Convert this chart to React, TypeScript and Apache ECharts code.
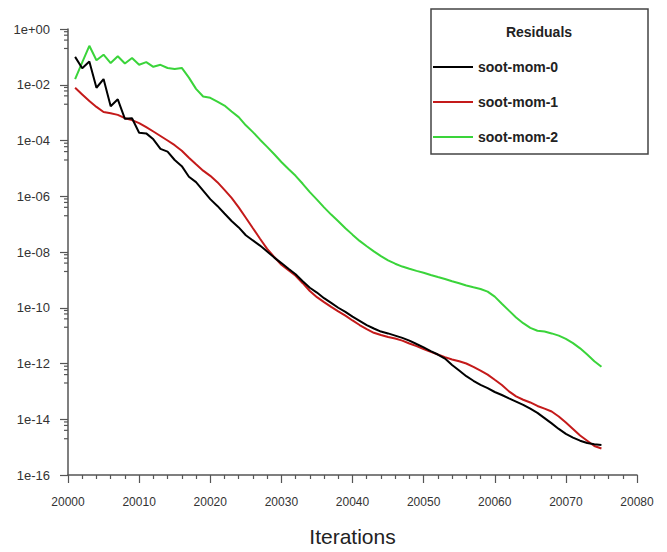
import React, { useEffect, useRef } from "react";
import * as echarts from "echarts";

const iterations = [
  20001, 20002, 20003, 20004, 20005, 20006, 20007, 20008, 20009, 20010,
  20011, 20012, 20013, 20014, 20015, 20016, 20017, 20018, 20019, 20020,
  20021, 20022, 20023, 20024, 20025, 20026, 20027, 20028, 20029, 20030,
  20031, 20032, 20033, 20034, 20035, 20036, 20037, 20038, 20039, 20040,
  20041, 20042, 20043, 20044, 20045, 20046, 20047, 20048, 20049, 20050,
  20051, 20052, 20053, 20054, 20055, 20056, 20057, 20058, 20059, 20060,
  20061, 20062, 20063, 20064, 20065, 20066, 20067, 20068, 20069, 20070,
  20071, 20072, 20073, 20074, 20075,
];

const sootMom0 = [
  1.0e-1, 3.9e-2, 6.8e-2, 7.8e-3, 1.6e-2, 1.7e-3, 3.0e-3, 6.0e-4, 6.3e-4, 1.9e-4,
  1.8e-4, 1.1e-4, 5.0e-5, 4.0e-5, 2.0e-5, 1.2e-5, 5.0e-6, 3.2e-6, 1.6e-6, 7.9e-7,
  4.5e-7, 2.4e-7, 1.3e-7, 7.6e-8, 4.0e-8, 2.6e-8, 1.7e-8, 1.05e-8, 6.3e-9, 4.0e-9,
  2.5e-9, 1.6e-9, 8.9e-10, 5.2e-10, 3.5e-10, 2.2e-10, 1.5e-10, 1.0e-10, 7.1e-11, 4.8e-11,
  3.4e-11, 2.4e-11, 1.8e-11, 1.4e-11, 1.2e-11, 1.0e-11, 8.3e-12, 6.6e-12, 5.0e-12, 3.8e-12,
  2.8e-12, 2.1e-12, 1.5e-12, 8.9e-13, 5.6e-13, 3.5e-13, 2.4e-13, 1.7e-13, 1.3e-13, 9.5e-14,
  7.4e-14, 5.6e-14, 4.3e-14, 3.3e-14, 2.4e-14, 1.7e-14, 1.1e-14, 7.1e-15, 4.5e-15, 3.0e-15,
  2.2e-15, 1.7e-15, 1.4e-15, 1.26e-15, 1.2e-15,
];

const sootMom1 = [
  7.8e-3, 4.5e-3, 2.6e-3, 1.6e-3, 1.05e-3, 9.5e-4, 8.3e-4, 6.3e-4, 5.4e-4, 4.2e-4,
  3.0e-4, 2.1e-4, 1.45e-4, 1.0e-4, 6.8e-5, 4.3e-5, 2.4e-5, 1.4e-5, 8.3e-6, 5.4e-6,
  3.2e-6, 1.7e-6, 8.7e-7, 4.0e-7, 1.7e-7, 7.1e-8, 3.0e-8, 1.3e-8, 6.6e-9, 3.5e-9,
  2.2e-9, 1.4e-9, 7.6e-10, 4.0e-10, 2.4e-10, 1.6e-10, 1.07e-10, 7.4e-11, 5.2e-11, 3.5e-11,
  2.4e-11, 1.7e-11, 1.26e-11, 1.05e-11, 8.9e-12, 7.9e-12, 6.6e-12, 5.2e-12, 4.2e-12, 3.3e-12,
  2.6e-12, 2.1e-12, 1.7e-12, 1.4e-12, 1.2e-12, 1.0e-12, 7.6e-13, 5.6e-13, 4.0e-13, 2.6e-13,
  1.7e-13, 1.0e-13, 6.6e-14, 5.0e-14, 4.0e-14, 3.0e-14, 2.4e-14, 1.9e-14, 1.26e-14, 7.6e-15,
  4.5e-15, 2.6e-15, 1.7e-15, 1.1e-15, 8.9e-16,
];

const sootMom2 = [
  1.6e-2, 6.3e-2, 2.5e-1, 7.6e-2, 1.2e-1, 6.0e-2, 1.05e-1, 5.8e-2, 9.1e-2, 5.2e-2,
  6.5e-2, 4.4e-2, 5.2e-2, 4.0e-2, 3.7e-2, 4.0e-2, 1.8e-2, 7.1e-3, 3.8e-3, 3.4e-3,
  2.5e-3, 1.8e-3, 1.1e-3, 6.9e-4, 3.5e-4, 2.0e-4, 1.07e-4, 5.9e-5, 3.2e-5, 1.7e-5,
  9.5e-6, 5.4e-6, 2.8e-6, 1.4e-6, 7.6e-7, 4.0e-7, 2.2e-7, 1.26e-7, 7.1e-8, 4.2e-8,
  2.5e-8, 1.6e-8, 1.05e-8, 7.1e-9, 5.0e-9, 3.8e-9, 3.0e-9, 2.5e-9, 2.1e-9, 1.8e-9,
  1.5e-9, 1.26e-9, 1.07e-9, 8.9e-10, 7.6e-10, 6.3e-10, 5.4e-10, 4.7e-10, 3.8e-10, 2.5e-10,
  1.4e-10, 7.9e-11, 4.5e-11, 2.8e-11, 1.9e-11, 1.5e-11, 1.4e-11, 1.2e-11, 1.0e-11, 7.6e-12,
  5.4e-12, 3.5e-12, 2.1e-12, 1.2e-12, 7.6e-13,
];

const seriesNames = ["soot-mom-0", "soot-mom-1", "soot-mom-2"];
const seriesColors = ["#000000", "#c41a1a", "#3ad43a"];
const legendTitle = "Residuals";
const xAxisTitle = "Iterations";

// Minor y ticks: linear subdivisions (0.8, 0.6, 0.4, 0.2) of each two-decade interval
const yMinorTicks = [
  0.8, 0.6, 0.4, 0.2,
  8e-3, 6e-3, 4e-3, 2e-3,
  8e-5, 6e-5, 4e-5, 2e-5,
  8e-7, 6e-7, 4e-7, 2e-7,
  8e-9, 6e-9, 4e-9, 2e-9,
  8e-11, 6e-11, 4e-11, 2e-11,
  8e-13, 6e-13, 4e-13, 2e-13,
  8e-15, 6e-15, 4e-15, 2e-15,
];

const FONT = "'Liberation Sans', Arial, sans-serif";

function fmtExp(v: number): string {
  const e = Math.round(Math.log10(v));
  const sign = e < 0 ? "-" : "+";
  const a = Math.abs(e);
  return "1e" + sign + (a < 10 ? "0" + a : String(a));
}

export default function App() {
  const ref = useRef<HTMLDivElement>(null);
  useEffect(() => {
    if (!ref.current) return;
    const chart = echarts.init(ref.current, undefined, { renderer: "svg" });
    const allData = [sootMom0, sootMom1, sootMom2];
    const lineSeries = seriesNames.map((name, i) => ({
      name,
      type: "line",
      data: iterations.map((it, j) => [it, allData[i][j]]),
      showSymbol: false,
      symbol: "none",
      lineStyle: { color: seriesColors[i], width: 2 },
      itemStyle: { color: seriesColors[i] },
      z: 3 - i,
    }));
    const option: any = {
      animation: false,
      backgroundColor: "#ffffff",
      grid: { left: 68, right: 30, top: 29, bottom: 75, containLabel: false },
      xAxis: {
        type: "value",
        min: 20000,
        max: 20080,
        interval: 10,
        name: xAxisTitle,
        nameLocation: "middle",
        nameGap: 51,
        nameTextStyle: { fontFamily: FONT, fontSize: 21, color: "#222" },
        axisLine: { show: true, onZero: false, lineStyle: { color: "#555", width: 1.5 } },
        axisTick: { show: true, inside: false, length: 8, lineStyle: { color: "#555", width: 1.2 } },
        minorTick: { show: true, splitNumber: 5, length: 4, lineStyle: { color: "#555", width: 1.2 } },
        axisLabel: {
          fontFamily: FONT,
          fontSize: 12,
          color: "#333",
          margin: 21,
          formatter: (v: number) => String(v),
        },
        splitLine: { show: false },
      },
      yAxis: {
        type: "log",
        logBase: 10,
        min: 1e-16,
        max: 1,
        interval: 2,
        axisLine: { show: true, lineStyle: { color: "#555", width: 1.5 } },
        axisTick: { show: true, inside: false, length: 8, lineStyle: { color: "#555", width: 1.2 } },
        minorTick: { show: false },
        axisLabel: {
          fontFamily: FONT,
          fontSize: 13,
          color: "#333",
          margin: 18,
          formatter: (v: number) => fmtExp(v),
        },
        splitLine: { show: false },
      },
      legend: {
        data: seriesNames,
        orient: "vertical",
        left: 433,
        top: 59,
        padding: 0,
        itemGap: 19,
        itemWidth: 40,
        itemHeight: 2,
        icon: "rect",
        textStyle: { fontFamily: FONT, fontSize: 14, fontWeight: "bold", color: "#222", lineHeight: 16 },
      },
      graphic: [
        {
          type: "rect",
          shape: { x: 431, y: 9, width: 217, height: 145 },
          style: { fill: "none", stroke: "#444", lineWidth: 1.5 },
          z: 10,
        },
        {
          type: "text",
          x: 539,
          y: 32,
          style: {
            text: legendTitle,
            fontFamily: FONT,
            fontSize: 14,
            fontWeight: "bold",
            fill: "#222",
            align: "center",
            verticalAlign: "middle",
          },
          z: 10,
        },
      ],
      series: [
        ...lineSeries,
        {
          type: "custom",
          name: "yMinorTicks",
          silent: true,
          clip: false,
          data: yMinorTicks.map((v) => [20000, v]),
          renderItem: (params: any, api: any) => {
            const p = api.coord([api.value(0), api.value(1)]);
            return {
              type: "line",
              shape: { x1: p[0] - 4, y1: p[1], x2: p[0], y2: p[1] },
              style: { stroke: "#555", lineWidth: 1.2 },
            };
          },
          z: 1,
        },
      ],
    };
    chart.setOption(option);
    return () => chart.dispose();
  }, []);
  return (
    <div
      ref={ref}
      style={{ position: "fixed", left: 0, top: 0, width: 667, height: 552, background: "#fff" }}
    />
  );
}
